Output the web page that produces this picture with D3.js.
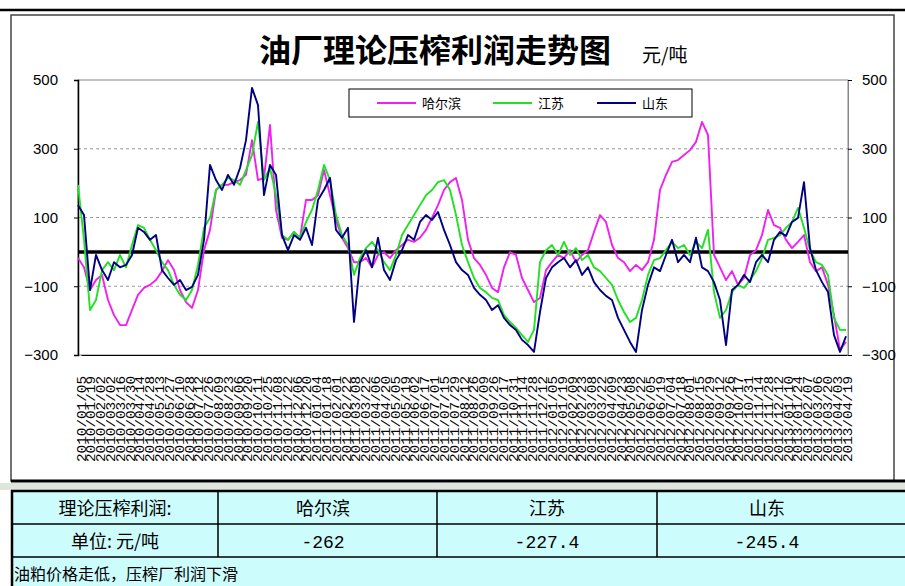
<!DOCTYPE html>
<html><head><meta charset="utf-8">
<script src="https://cdn.jsdelivr.net/npm/d3@7"></script>
<style>html,body{margin:0;padding:0;background:#fff;}svg{display:block;}</style>
</head><body><svg id="c" width="905" height="586"></svg>
<script>
const title = "油厂理论压榨利润走势图";
const unitLabel = "元/吨";
const seriesNames = ["哈尔滨", "江苏", "山东"];
const seriesColors = ["#f020f0", "#22e022", "#000080"];
const yTicks = [500, 300, 100, -100, -300];
const dateLabels = [
"2010/01/05","2010/01/19","2010/02/02","2010/03/02","2010/03/16","2010/03/30","2010/04/14","2010/04/28","2010/05/13","2010/05/27","2010/06/10","2010/06/28","2010/07/12","2010/07/26","2010/08/09","2010/08/23","2010/09/06","2010/09/20","2010/10/11","2010/10/25","2010/11/08","2010/11/22","2010/12/06","2010/12/20",
"2011/01/04","2011/01/18","2011/02/01","2011/02/22","2011/03/08","2011/03/22","2011/04/06","2011/04/20","2011/05/05","2011/05/19","2011/06/02","2011/06/17","2011/07/01","2011/07/15","2011/07/29","2011/08/12","2011/08/26","2011/09/09","2011/09/26","2011/10/17","2011/10/31","2011/11/14","2011/11/28","2011/12/12",
"2012/01/05","2012/01/19","2012/02/09","2012/02/23","2012/03/08","2012/03/22","2012/04/09","2012/04/23","2012/05/08","2012/05/22","2012/06/05","2012/06/19","2012/07/04","2012/07/18","2012/08/01","2012/08/15","2012/08/29","2012/09/12","2012/09/26","2012/10/17","2012/10/31","2012/11/14","2012/11/28","2012/12/12",
"2013/01/10","2013/01/24","2013/02/07","2013/03/06","2013/03/20","2013/04/03","2013/04/19"];

const harbin = [-18,-45,-111,-82,-67,-140,-184,-213,-213,-169,-125,-105,-96,-82,-56,-24,-53,-111,-146,-163,-111,5,64,180,195,195,203,209,224,325,209,215,369,122,41,35,58,41,151,151,165,238,165,93,41,11,-30,-30,-18,-45,-9,-1,-18,5,20,35,29,41,64,99,136,180,203,215,151,35,-18,-38,-67,-105,-117,-45,-1,-9,-76,-111,-146,-134,-53,-30,-9,-18,5,-30,-9,5,58,107,87,20,-18,-30,-56,-38,-53,-30,35,180,224,262,267,282,296,320,378,340,-9,-45,-82,-56,-96,-76,-9,5,49,122,78,70,35,11,29,49,-30,-56,-45,-96,-184,-285,-262];
const jiangsu = [195,35,-169,-140,-53,-30,-53,-9,-45,20,78,70,35,5,-30,-53,-96,-125,-140,-111,-38,70,99,180,195,215,209,195,238,282,378,209,244,165,49,35,58,41,87,122,180,253,209,107,49,20,-67,-18,11,29,5,-30,-53,-9,49,78,107,136,165,180,203,209,180,107,20,-30,-76,-105,-117,-134,-140,-184,-204,-221,-242,-262,-227,-30,5,20,-9,29,-9,11,-24,-9,-45,-56,-76,-96,-140,-175,-204,-192,-140,-67,-24,-18,5,29,11,20,-9,29,11,64,-117,-192,-169,-117,-96,-105,-82,-56,-18,35,41,49,70,87,128,70,5,-30,-38,-67,-192,-227,-227.4];
const shandong = [136,107,-111,-9,-53,-82,-30,-45,-38,-9,70,58,35,49,-53,-76,-96,-82,-111,-102,-67,35,253,209,180,224,195,244,325,477,427,165,253,224,49,5,49,35,70,20,151,180,215,64,41,70,-204,-30,5,-45,41,-53,-82,-24,5,49,35,87,107,93,116,64,20,-30,-53,-67,-105,-125,-140,-169,-155,-192,-213,-227,-256,-271,-291,-175,-76,-45,-30,-18,-45,-24,-67,-45,-88,-111,-128,-140,-192,-227,-262,-291,-169,-96,-45,-56,-9,35,-30,-9,-30,41,-45,-56,-88,-140,-271,-111,-96,-67,-88,-30,-9,-30,35,58,46,87,99,203,11,-53,-88,-117,-242,-291,-245.4];
const series = [harbin, jiangsu, shandong];

const tableHeader = ["理论压榨利润:", "哈尔滨", "江苏", "山东"];
const tableRow = ["单位: 元/吨", "-262", "-227.4", "-245.4"];
const comment = "油粕价格走低，压榨厂利润下滑";

const svg = d3.select("#c");
const W = 905, H = 586;
svg.append("rect").attr("width", W).attr("height", H).attr("fill", "#fff");

svg.append("line").attr("x1", 0).attr("x2", W).attr("y1", 10).attr("y2", 10).attr("stroke", "#000").attr("stroke-width", 2.5);
svg.append("rect").attr("x", 11).attr("y", 15).attr("width", 883).attr("height", 466)
  .attr("fill", "#fff").attr("stroke", "#444").attr("stroke-width", 1.5);
svg.append("line").attr("x1", 11).attr("x2", W).attr("y1", 481).attr("y2", 481).attr("stroke", "#000").attr("stroke-width", 3);
svg.append("rect").attr("x", 0).attr("y", 483).attr("width", W).attr("height", 7).attr("fill", "#dde5dd");

const L = 78, R = 848, T = 80, B = 355;
const y = d3.scaleLinear().domain([-300, 500]).range([B, T]);
const N = harbin.length;
const x = d3.scaleLinear().domain([0, N - 1]).range([L, 846]);
const xl = d3.scalePoint().domain(dateLabels).range([81, 847]);

svg.append("g").selectAll("line").data([300, 100, -100]).join("line")
  .attr("x1", L).attr("x2", R).attr("y1", d => y(d)).attr("y2", d => y(d))
  .attr("stroke", "#999").attr("stroke-dasharray", "3,3").attr("stroke-width", 1);

svg.append("rect").attr("x", L).attr("y", T).attr("width", R - L).attr("height", B - T)
  .attr("fill", "none").attr("stroke", "#888").attr("stroke-width", 1);

const yAxisL = d3.axisLeft(y).tickValues(yTicks).tickSize(4).tickPadding(16);
const gL = svg.append("g").attr("transform", `translate(${L},0)`).call(yAxisL);
gL.select(".domain").attr("stroke", "#000").attr("stroke-width", 1.5);
gL.selectAll("text").attr("font-family", "Liberation Sans, Arial, sans-serif").attr("font-size", 15).attr("fill", "#000");
const yAxisR = d3.axisRight(y).tickValues(yTicks).tickSize(4).tickPadding(10);
const gR = svg.append("g").attr("transform", `translate(${R},0)`).call(yAxisR);
gR.select(".domain").attr("stroke", "#888");
gR.selectAll("text").attr("font-family", "Liberation Sans, Arial, sans-serif").attr("font-size", 15).attr("fill", "#000");

const xAxis = d3.axisBottom(xl).tickSize(0).tickPadding(0);
const gX = svg.append("g").attr("transform", `translate(0,${B})`).call(xAxis);
gX.select(".domain").attr("stroke", "#000").attr("stroke-width", 1);
gX.selectAll("text")
  .attr("transform", "translate(4,107) rotate(-90)")
  .attr("x", 0).attr("y", 0).attr("dy", 0)
  .attr("text-anchor", "start")
  .attr("font-family", "Liberation Mono, monospace").attr("font-size", 12.5)
  .attr("textLength", 86).attr("lengthAdjust", "spacingAndGlyphs")
  .attr("fill", "#000");

svg.append("line").attr("x1", L).attr("x2", R).attr("y1", y(0)).attr("y2", y(0))
  .attr("stroke", "#000").attr("stroke-width", 3.5);

const line = d3.line().x((d, i) => x(i)).y(d => y(d));
series.forEach((s, k) => {
  svg.append("path").datum(s).attr("d", line).attr("fill", "none")
    .attr("stroke", seriesColors[k]).attr("stroke-width", 1.9).attr("stroke-linejoin", "round");
});

svg.append("rect").attr("x", 349).attr("y", 89).attr("width", 343).attr("height", 28)
  .attr("fill", "#fff").attr("stroke", "#000").attr("stroke-width", 1);
const legX = [377, 493, 597];
seriesNames.forEach((n, k) => {
  svg.append("line").attr("x1", legX[k]).attr("x2", legX[k] + 39).attr("y1", 103).attr("y2", 103)
    .attr("stroke", seriesColors[k]).attr("stroke-width", 2);
  svg.append("text").attr("x", legX[k] + 45).attr("y", 108).text(n)
    .attr("font-family", "Noto Sans CJK SC, sans-serif").attr("font-size", 13).attr("fill", "#000");
});

svg.append("text").attr("x", 435).attr("y", 62).attr("text-anchor", "middle").text(title)
  .attr("font-family", "Noto Sans CJK SC, sans-serif").attr("font-weight", "bold").attr("font-size", 32).attr("fill", "#000");
svg.append("text").attr("x", 642).attr("y", 62).text(unitLabel)
  .attr("font-family", "Noto Sans CJK SC, sans-serif").attr("font-size", 19).attr("fill", "#000");

const TY = 490;
svg.append("rect").attr("x", 11).attr("y", TY).attr("width", W - 11).attr("height", H - TY)
  .attr("fill", "#ccfcfc");
const colX = [11, 218, 437, 657];
const rowY = [TY, 524, 557];
const tg = svg.append("g").attr("stroke", "#000");
tg.append("line").attr("x1", 11).attr("x2", W).attr("y1", TY + 1).attr("y2", TY + 1).attr("stroke-width", 2.5);
tg.append("line").attr("x1", 12).attr("x2", 12).attr("y1", TY).attr("y2", H).attr("stroke-width", 2.5);
rowY.slice(1).forEach(r => tg.append("line").attr("x1", 11).attr("x2", W).attr("y1", r).attr("y2", r).attr("stroke-width", 1.5));
colX.slice(1).forEach(c => tg.append("line").attr("x1", c).attr("x2", c).attr("y1", TY).attr("y2", 557).attr("stroke-width", 1.5));
const centers = [115, 323, 547, 767];
tableHeader.forEach((t, i) => svg.append("text").attr("x", centers[i]).attr("y", 515).attr("text-anchor", "middle").text(t)
  .attr("font-family", "Noto Sans CJK SC, sans-serif").attr("font-size", 18).attr("fill", "#000"));
tableRow.forEach((t, i) => svg.append("text").attr("x", centers[i]).attr("y", 548).attr("text-anchor", "middle").text(t)
  .attr("font-family", i === 0 ? "Noto Sans CJK SC, sans-serif" : "Liberation Mono, monospace").attr("font-size", 18).attr("fill", "#000"));
svg.append("text").attr("x", 14).attr("y", 580).text(comment)
  .attr("font-family", "Noto Sans CJK SC, sans-serif").attr("font-size", 16).attr("fill", "#000");
</script></body></html>
